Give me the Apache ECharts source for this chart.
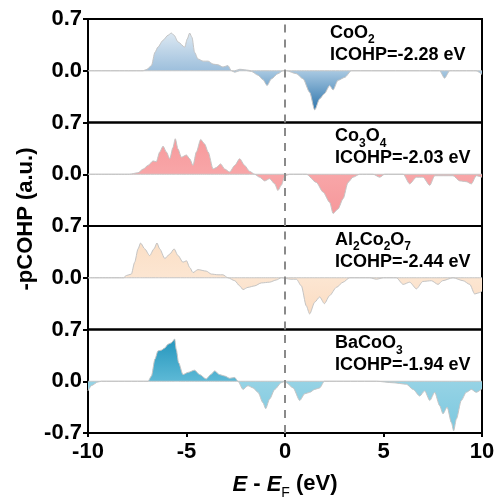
<!DOCTYPE html>
<html>
<head>
<meta charset="utf-8">
<script src="https://cdn.jsdelivr.net/npm/echarts@6/dist/echarts.min.js"></script>
<style>
  html, body { margin: 0; padding: 0; background: #fff; }
  #chart { width: 499px; height: 499px; }
</style>
</head>
<body>
<div id="chart"></div>
<script>
// 四个面板的 -pCOHP 曲线，[能量(eV), 数值]
const coo2 = [[-10,0],[-7.2,0],[-7.0,0.02],[-6.78,0.07],[-6.6,0.25],[-6.45,0.32],[-6.2,0.41],[-5.94,0.48],[-5.77,0.51],[-5.63,0.48],[-5.43,0.39],[-5.09,0.32],[-4.96,0.43],[-4.84,0.51],[-4.72,0.45],[-4.59,0.25],[-4.42,0.16],[-4.16,0.13],[-3.9,0.13],[-3.65,0.09],[-3.4,0.08],[-3.15,0.05],[-2.9,0.07],[-2.72,0],[-2.55,-0.02],[-2.3,0.02],[-1.96,0.01],[-1.7,-0.01],[-1.37,-0.06],[-1.12,-0.12],[-0.91,-0.2],[-0.69,-0.11],[-0.36,-0.04],[-0.1,0],[0.07,0],[0.58,-0.04],[0.92,-0.11],[1.25,-0.29],[1.51,-0.53],[1.76,-0.38],[2.0,-0.31],[2.27,-0.2],[2.44,-0.26],[2.69,-0.13],[3.03,-0.09],[3.37,0],[7.85,0],[8.1,-0.1],[8.36,0],[9.7,0],[10,-0.05]];
const co3o4 = [[-10,0],[-7.9,0],[-7.46,0.02],[-7.2,0.07],[-6.95,0.12],[-6.7,0.18],[-6.53,0.17],[-6.36,0.3],[-6.19,0.38],[-6.02,0.3],[-5.85,0.21],[-5.69,0.36],[-5.57,0.48],[-5.43,0.34],[-5.26,0.23],[-5.0,0.26],[-4.84,0.21],[-4.67,0.12],[-4.5,0.3],[-4.28,0.47],[-4.08,0.41],[-3.9,0.3],[-3.65,0.07],[-3.49,0.09],[-3.27,0.14],[-3.06,0.07],[-2.81,0.03],[-2.55,0.12],[-2.3,0.21],[-2.05,0.12],[-1.8,0.04],[-1.54,0],[-1.29,-0.04],[-1.03,-0.09],[-0.78,-0.06],[-0.52,-0.13],[-0.36,-0.22],[-0.19,-0.15],[0,-0.02],[0.24,0],[1.08,0],[1.59,-0.11],[1.93,-0.24],[2.27,-0.38],[2.44,-0.53],[2.69,-0.47],[2.95,-0.33],[3.2,-0.11],[3.45,-0.04],[3.79,0],[4.47,0],[4.81,-0.04],[5.06,0],[6.0,0],[6.33,-0.13],[6.67,-0.04],[7.0,-0.04],[7.35,-0.15],[7.6,-0.02],[8.53,-0.02],[8.87,-0.09],[9.2,-0.1],[9.46,-0.13],[9.71,-0.02],[10,-0.04]];
const al2co2o7 = [[-10,0],[-8.2,0],[-8.05,0.03],[-7.8,0.05],[-7.63,0.21],[-7.46,0.39],[-7.33,0.47],[-7.12,0.39],[-6.87,0.3],[-6.65,0.39],[-6.5,0.47],[-6.36,0.39],[-6.1,0.26],[-5.85,0.32],[-5.63,0.39],[-5.43,0.3],[-5.18,0.21],[-5.0,0.23],[-4.84,0.14],[-4.67,0.07],[-4.42,0.11],[-4.0,0.09],[-3.74,0.05],[-3.4,0.04],[-3.15,0.04],[-2.9,0],[-2.55,-0.04],[-2.3,-0.11],[-2.13,-0.16],[-1.88,-0.13],[-1.54,-0.11],[-1.2,-0.07],[-0.78,-0.06],[-0.44,-0.03],[-0.19,0],[0.3,-0.02],[0.58,-0.02],[0.83,-0.11],[1.08,-0.38],[1.25,-0.49],[1.51,-0.33],[1.76,-0.26],[2.0,-0.35],[2.27,-0.24],[2.61,-0.13],[2.95,-0.06],[3.28,0],[4.3,0],[4.64,-0.02],[5.0,0],[5.65,0],[6.0,-0.09],[6.33,-0.06],[6.67,-0.15],[7.0,-0.05],[7.43,-0.04],[7.77,-0.09],[8.0,-0.04],[8.53,0],[9.04,-0.04],[9.38,-0.09],[9.63,-0.22],[9.88,-0.2],[10,-0.18]];
const bacoo3 = [[-10,-0.13],[-9.83,-0.06],[-9.5,-0.01],[-9.32,0],[-6.95,0],[-6.78,0.07],[-6.6,0.3],[-6.45,0.41],[-6.28,0.42],[-6.1,0.45],[-5.94,0.5],[-5.77,0.52],[-5.6,0.57],[-5.52,0.43],[-5.4,0.25],[-5.18,0.09],[-4.92,0.12],[-4.59,0.15],[-4.33,0.09],[-4.0,0.03],[-3.77,0.09],[-3.57,0.14],[-3.32,0.09],[-3.06,0.07],[-2.81,0.04],[-2.55,0.05],[-2.39,0],[-2.13,-0.11],[-1.88,-0.06],[-1.62,-0.09],[-1.37,-0.15],[-1.12,-0.29],[-0.98,-0.37],[-0.78,-0.24],[-0.52,-0.11],[-0.19,-0.02],[0,0],[0.07,-0.02],[0.41,-0.09],[0.75,-0.26],[1.0,-0.17],[1.25,-0.15],[1.51,-0.11],[1.76,-0.09],[2.0,0],[4.64,0],[5.48,-0.02],[6.16,-0.04],[6.5,-0.11],[6.84,-0.2],[7.09,-0.13],[7.35,-0.26],[7.6,-0.15],[7.85,-0.33],[8.02,-0.44],[8.23,-0.35],[8.45,-0.56],[8.56,-0.67],[8.7,-0.51],[8.95,-0.26],[9.2,-0.15],[9.46,-0.11],[9.71,-0.15],[10,-0.1]];

const names = ['{n|CoO}{s|2}', '{n|Co}{s|3}{n|O}{s|4}', '{n|Al}{s|2}{n|Co}{s|2}{n|O}{s|7}', '{n|BaCoO}{s|3}'];
const icohp = ['-2.28', '-2.03', '-2.44', '-1.94'];
const xTicks = [-10, -5, 0, 5, 10];
const yTicks = [-0.7, 0, 0.7];
const fermi = 0;

const panels = [coo2, co3o4, al2co2o7, bacoo3];
// 正/负部分的颜色（上, 下）
const colors = [
  { pos: ['#dce8f2', '#9dbfdc'], neg: ['#a9c9e2', '#2f76ad'] },
  { pos: ['#f79a9c', '#f8a6a8'], neg: ['#f8a6a8', '#f6989b'] },
  { pos: ['#fbdfc6', '#fce6d2'], neg: ['#fce6d2', '#fbdcc2'] },
  { pos: ['#2596bd', '#5db9d6'], neg: ['#96d3e5', '#7cc8df'] }
];

const font = "'Liberation Sans', Arial, sans-serif";
const top0 = 19, ph = 103.5;

function grad(c) {
  return new echarts.graphic.LinearGradient(0, 0, 0, 1, [
    { offset: 0, color: c[0] }, { offset: 1, color: c[1] }
  ]);
}

const grids = [], xAxes = [], yAxes = [], series = [], graphics = [];

panels.forEach((data, i) => {
  const last = i === panels.length - 1;
  grids.push({ left: 88, right: 17, top: top0 + i * ph, height: ph, show: true, borderColor: '#000', borderWidth: 2, backgroundColor: 'transparent' });
  xAxes.push({
    type: 'value', gridIndex: i, min: xTicks[0], max: xTicks[xTicks.length - 1], interval: 5,
    axisLine: { show: last, onZero: false, lineStyle: { color: '#000', width: 2 } },
    axisTick: { show: last, length: 4, lineStyle: { color: '#000', width: 2 } },
    axisLabel: { show: last, fontSize: 22, fontWeight: 'bold', color: '#000', fontFamily: font, margin: 8 },
    splitLine: { show: false }
  });
  yAxes.push({
    type: 'value', gridIndex: i, min: yTicks[0], max: yTicks[2], interval: 0.7,
    axisLine: { show: true, onZero: false, lineStyle: { color: '#000', width: 2 } },
    axisTick: { show: true, length: 5, lineStyle: { color: '#000', width: 2 } },
    axisLabel: {
      fontSize: 22, fontWeight: 'bold', color: '#000', fontFamily: font, margin: 6,
      showMinLabel: true, showMaxLabel: true,
      formatter: v => (v < -0.5 && !last) ? '' : (Math.abs(v) < 1e-9 ? '0.0' : v.toFixed(1))
    },
    splitLine: { show: false }
  });
  const posData = data.map(p => [p[0], Math.max(p[1], 0)]);
  const negData = data.map(p => [p[0], Math.min(p[1], 0)]);
  const base = {
    type: 'line', xAxisIndex: i, yAxisIndex: i, showSymbol: false, symbol: 'none',
    smooth: 0.25, smoothMonotone: 'x', silent: true,
    lineStyle: { color: '#c4c4c4', width: 1 }
  };
  series.push(Object.assign({}, base, {
    data: posData, areaStyle: { color: grad(colors[i].pos), opacity: 1 }
  }));
  series.push(Object.assign({}, base, {
    data: negData, areaStyle: { color: grad(colors[i].neg), opacity: 1 }
  }));
  // 费米能级虚线
  series.push({
    type: 'line', xAxisIndex: i, yAxisIndex: i, showSymbol: false, symbol: 'none', silent: true, z: 5,
    data: [[fermi, yTicks[0]], [fermi, yTicks[2]]],
    lineStyle: { color: '#8a8a8a', type: [8, 7], width: 2 }
  });

  const t = top0 + i * ph;
  const lx = i === 0 ? 330 : 335;
  graphics.push({
    type: 'text', left: lx, top: t + 5, z: 100,
    style: {
      text: names[i], fill: '#000',
      rich: {
        n: { fontSize: 18, fontWeight: 'bold', fontFamily: font, fill: '#000', lineHeight: 20, verticalAlign: 'bottom' },
        s: { fontSize: 12, fontWeight: 'bold', fontFamily: font, fill: '#000', lineHeight: 14, verticalAlign: 'bottom', padding: [0, 0, -4, 0] }
      }
    }
  });
  graphics.push({
    type: 'text', left: lx, top: t + 27, z: 100,
    style: { text: 'ICOHP=' + icohp[i] + ' eV', fill: '#000', font: 'bold 18px ' + font }
  });
});

// 坐标轴标题
graphics.push({
  type: 'text', x: 26, y: 219, rotation: Math.PI / 2, z: 100,
  style: { text: '-pCOHP (a.u.)', fill: '#000', font: 'bold 22px ' + font, align: 'center', verticalAlign: 'middle' }
});
graphics.push({
  type: 'text', x: 285, y: 484, z: 100,
  style: {
    text: '{i|E} - {i|E}{s|F} (eV)', fill: '#000', font: 'bold 22px ' + font,
    align: 'center', verticalAlign: 'middle',
    rich: {
      i: { fontSize: 22, fontWeight: 'bold', fontStyle: 'italic', fontFamily: font, fill: '#000', lineHeight: 24, verticalAlign: 'bottom' },
      s: { fontSize: 14, fontWeight: 'normal', fontFamily: font, fill: '#000', lineHeight: 14, verticalAlign: 'bottom', padding: [0, 0, -4, 0] }
    }
  }
});

const chart = echarts.init(document.getElementById('chart'));
chart.setOption({
  animation: false,
  backgroundColor: '#fff',
  grid: grids,
  xAxis: xAxes,
  yAxis: yAxes,
  series: series,
  graphic: graphics
});
</script>
</body>
</html>
